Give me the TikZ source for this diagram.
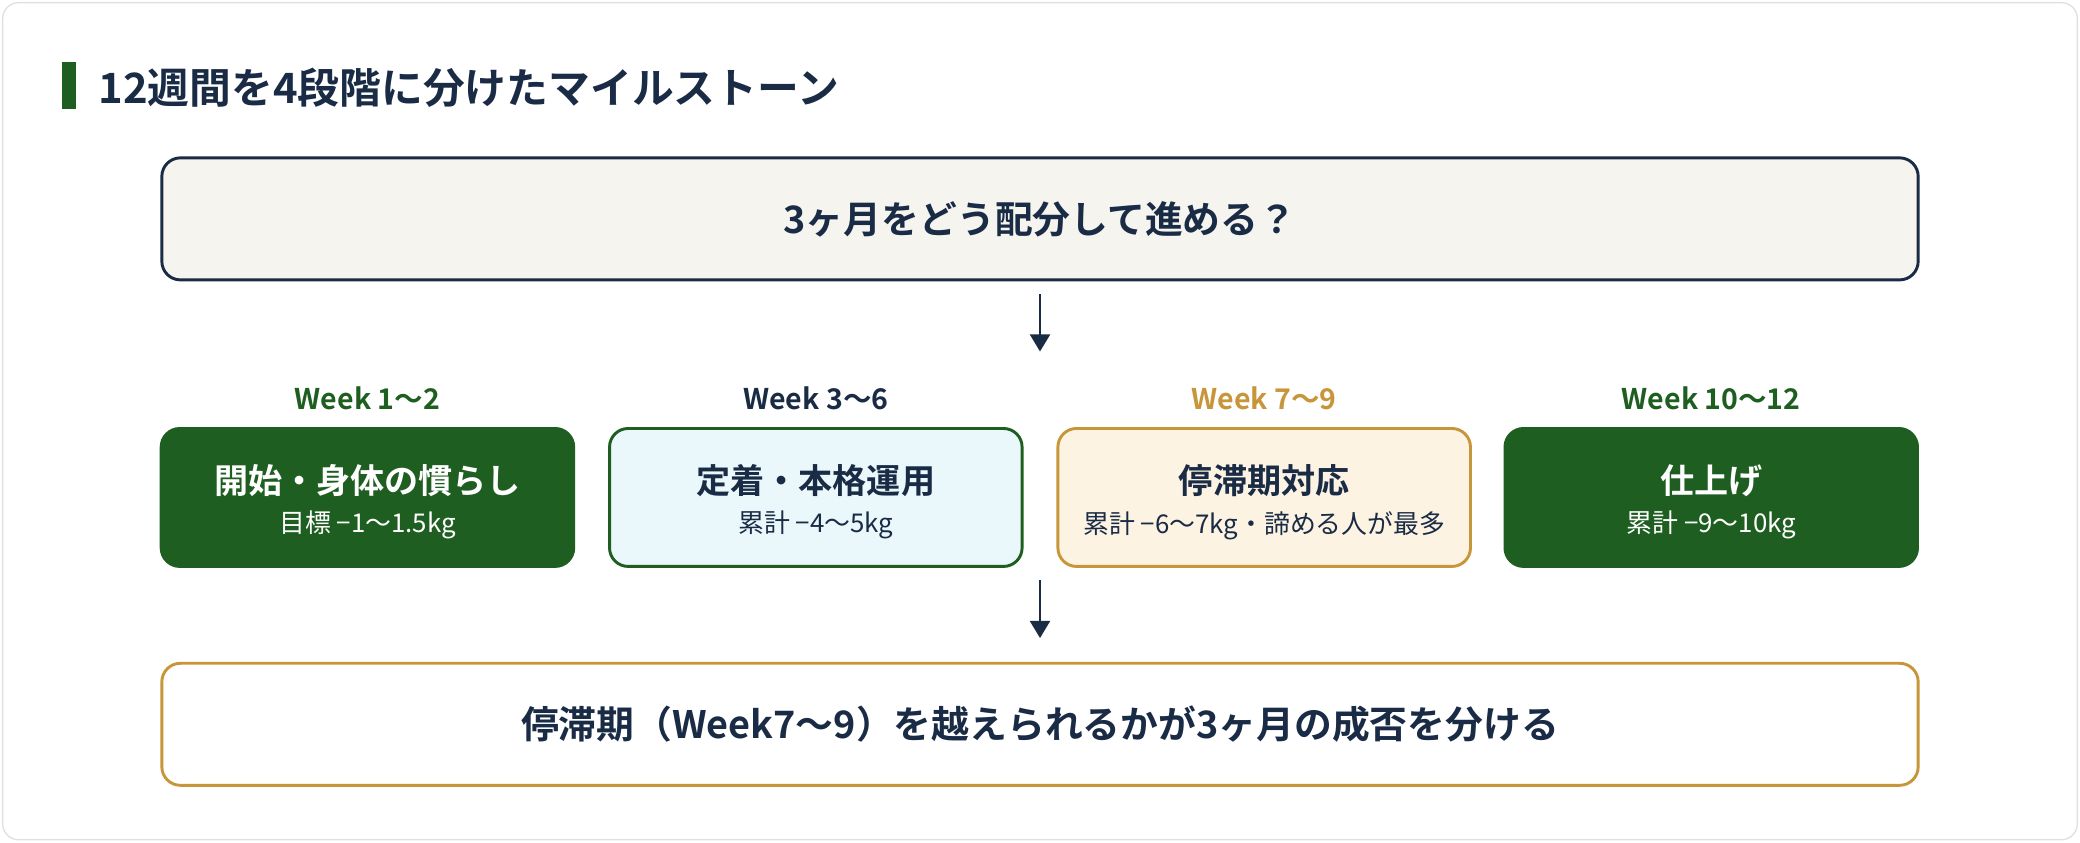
\documentclass[tikz,border=0pt]{standalone}
\usepackage{fontspec}
\setmainfont{Noto Sans CJK JP}[BoldFont={Noto Sans CJK JP Bold}]
\usetikzlibrary{arrows.meta}
\definecolor{navy}{HTML}{1A2B45}
\definecolor{dgreen}{HTML}{1E5E20}
\definecolor{gold}{HTML}{C8963A}
\definecolor{beige}{HTML}{F5F4EF}
\definecolor{lblue}{HTML}{EAF7FB}
\definecolor{lcream}{HTML}{FDF3E3}
\begin{document}
\begin{tikzpicture}[x=1pt,y=-1pt,
 box/.style={rounded corners=14pt,line width=2.2pt},
 st/.style={minimum width=311pt,minimum height=104pt,rounded corners=14pt,line width=2.2pt,inner sep=0pt},
 wk/.style={font=\bfseries\fontsize{21.5}{24}\selectfont},
 stt/.style={font=\bfseries\fontsize{25.7}{28}\selectfont},
 sts/.style={font=\fontsize{19.5}{22}\selectfont},
 arr/.style={navy,line width=2.2pt,-{Triangle[length=13pt,width=15pt]}}]
\useasboundingbox (0,0) rectangle (1568,635);
\draw[rounded corners=12pt,draw=black!12,line width=1pt,fill=white] (2,2) rectangle (1566,633);
\fill[dgreen] (47,47) rectangle (57,82);
\node[anchor=west,text=navy,font=\bfseries\fontsize{31.5}{34}\selectfont,inner sep=0pt] (title) at (74,66) {12週間を4段階に分けたマイルストーン};
\node[box,draw=navy,fill=beige,minimum width=1324pt,minimum height=92pt,text=navy,font=\bfseries\fontsize{28.5}{30}\selectfont] (q) at (784,165) {3ヶ月をどう配分して進める？};
\coordinate (a1) at (784,222);
\coordinate (a2) at (784,265);
\draw[arr] (a1) -- (a2);
\node[wk,text=dgreen] (w1) at (277,300) {Week 1〜2};
\node[wk,text=navy] (w2) at (615,300) {Week 3〜6};
\node[wk,text=gold] (w3) at (953,300) {Week 7〜9};
\node[wk,text=dgreen] (w4) at (1290,300) {Week 10〜12};
\node[st,fill=dgreen,draw=dgreen] (s1) at (277,375) {};
\node[st,fill=lblue,draw=dgreen] (s2) at (615,375) {};
\node[st,fill=lcream,draw=gold] (s3) at (953,375) {};
\node[st,fill=dgreen,draw=dgreen] (s4) at (1290,375) {};
\node[stt,text=white] (t1) at (277,362) {開始・身体の慣らし};
\node[sts,text=white] (u1) at (277,396) {目標 −1〜1.5kg};
\node[stt,text=navy] (t2) at (615,362) {定着・本格運用};
\node[sts,text=navy] (u2) at (615,396) {累計 −4〜5kg};
\node[stt,text=navy] (t3) at (953,362) {停滞期対応};
\node[sts,text=navy] (u3) at (953,396) {累計 −6〜7kg・諦める人が最多};
\node[stt,text=white] (t4) at (1290,362) {仕上げ};
\node[sts,text=white] (u4) at (1290,396) {累計 −9〜10kg};
\coordinate (b1) at (784,437);
\coordinate (b2) at (784,481);
\draw[arr] (b1) -- (b2);
\node[box,draw=gold,fill=white,minimum width=1324pt,minimum height=92pt,text=navy,font=\bfseries\fontsize{28.5}{30}\selectfont] (c) at (784,546) {停滞期（Week7〜9）を越えられるかが3ヶ月の成否を分ける};
\end{tikzpicture}
\end{document}
